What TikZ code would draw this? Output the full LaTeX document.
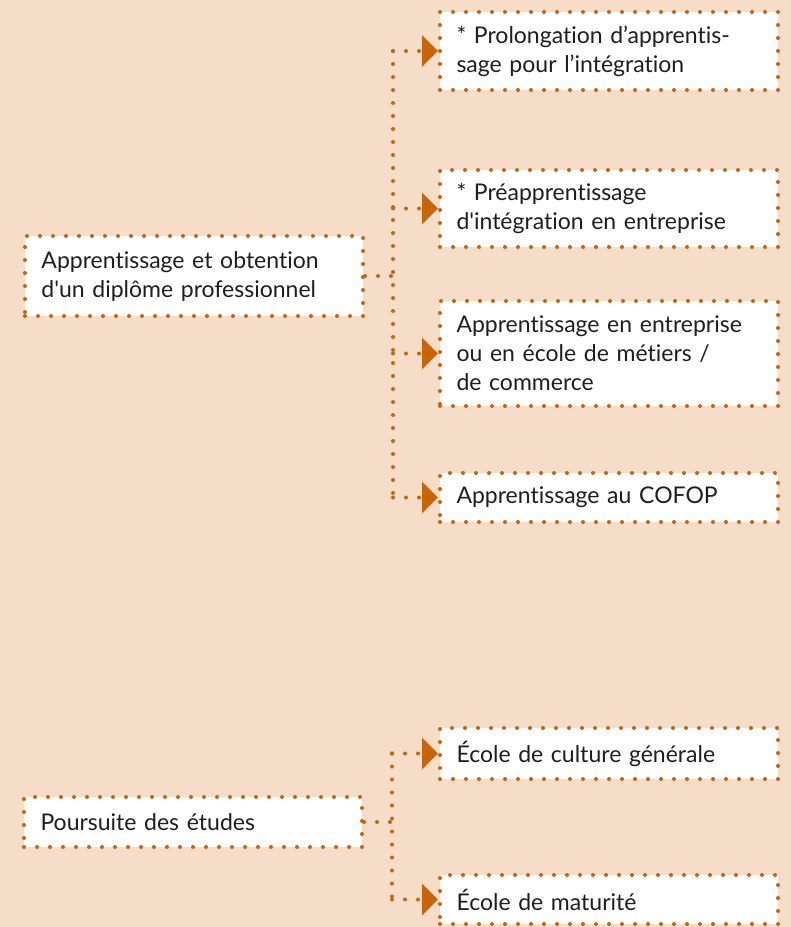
\documentclass[tikz,border=0pt]{standalone}
\usepackage{fontspec}
\setmainfont{Lato}[Ligatures={NoCommon,TeXOff}]
\usetikzlibrary{arrows.meta}
\definecolor{bgpeach}{HTML}{F6DDC8}
\definecolor{dotorange}{HTML}{C8640C}
\definecolor{txtdark}{HTML}{1E1E1E}
\tikzset{
  dotline/.style={draw=dotorange, line width=4pt, line cap=round, dash pattern=on 0pt off 13pt},
  box/.style={dotline, fill=white, rectangle, minimum width=338pt, text width=305pt, inner xsep=16.5pt, inner ysep=4pt, align=left, text=txtdark, font=\fontsize{23}{29}\selectfont},
  tri/.style={-{Triangle[length=16pt,width=31pt,color=dotorange]}},
}
\begin{document}
\begin{tikzpicture}[x=1pt,y=-1pt]
\fill[bgpeach] (0,0) rectangle (791,927);
\useasboundingbox (0,0) rectangle (791,927);
% left boxes
\node[box, minimum height=80pt] (L1) at (194,276) {Apprentissage et obtention\\d'un diplôme professionnel};
\node[box, minimum height=50pt] (L2) at (193,822) {Poursuite des études};
% right boxes
\node[box, minimum height=78pt] (B1) at (609,51) {* Prolongation d’apprentis-\\sage pour l’intégration};
\node[box, minimum height=77pt] (B2) at (609,208.5) {* Préapprentissage\\d'intégration en entreprise};
\node[box, minimum height=105pt] (B3) at (609,353.5) {Apprentissage en entreprise\\ou en école de métiers /\\de commerce};
\node[box, minimum height=49pt] (B4) at (609,497.5) {Apprentissage au COFOP};
\node[box, minimum height=51pt] (B5) at (609,753.5) {École de culture générale};
\node[box, minimum height=49pt] (B6) at (609,899.5) {École de maturité};
% trunk coordinates
\coordinate (T1) at (393,276);
\coordinate (T2) at (392,822);
% upper connectors
\draw[dotline] (L1.east) -- (T1);
\draw[dotline] (T1 |- B1.west) -- (T1 |- B4.west);
\draw[dotline,tri] (T1 |- B1.west) -- (B1.west);
\draw[dotline,tri] (T1 |- B2.west) -- (B2.west);
\draw[dotline,tri] (T1 |- B3.west) -- (B3.west);
\draw[dotline,tri] (T1 |- B4.west) -- (B4.west);
% lower connectors
\draw[dotline] (L2.east) -- (T2);
\draw[dotline] (T2 |- B5.west) -- (T2 |- B6.west);
\draw[dotline,tri] (T2 |- B5.west) -- (B5.west);
\draw[dotline,tri] (T2 |- B6.west) -- (B6.west);
\end{tikzpicture}
\end{document}
